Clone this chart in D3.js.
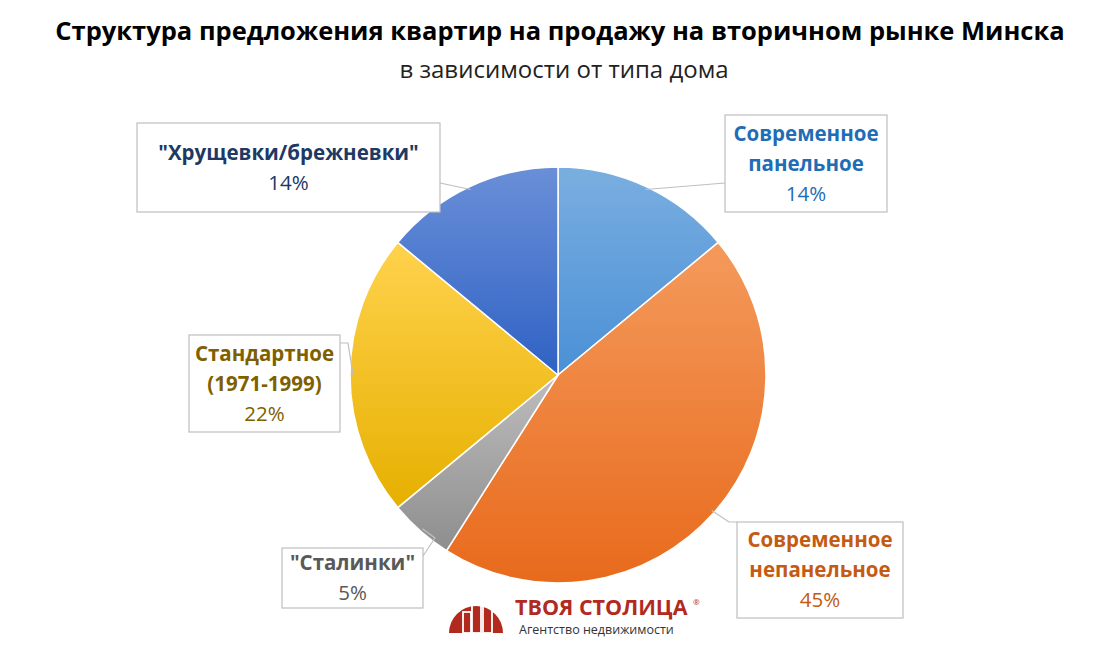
<!DOCTYPE html>
<html><head><meta charset="utf-8">
<script src="https://cdn.jsdelivr.net/npm/d3@7"></script>
<style>body{margin:0;background:#fff;font-family:"Open Sans","Noto Sans",sans-serif}</style>
</head><body><svg id="c" width="1100" height="658"></svg>
<script>
const categories = ["Современное панельное","Современное непанельное","\"Сталинки\"","Стандартное (1971-1999)","\"Хрущевки/брежневки\""];
const values = [14,45,5,22,14];
const labelLines = [["Современное","панельное"],["Современное","непанельное"],["\"Сталинки\""],["Стандартное","(1971-1999)"],["\"Хрущевки/брежневки\""]];
const colorsLight = ["#7aaee0","#f49a5c","#bdbdbd","#ffd24d","#6a8fd8"];
const colorsDark = ["#4a90d6","#e86a1c","#8e8e8e","#e6b000","#2f62c4"];
const textColors = ["#1f6db5","#c55a11","#595959","#7f6000","#203864"];
const boxes = [[725,115,162,97],[737,522,166,96],[282,548,141,60],[189,335,151,97],[137,123,303,89]];
const svg = d3.select("#c");
const cx=558, cy=375, R=208;
const defs = svg.append("defs");
values.forEach((v,i)=>{
  const g=defs.append("linearGradient").attr("id","g"+i).attr("x1",0).attr("y1",0).attr("x2",0).attr("y2",1);
  g.append("stop").attr("offset","0%").attr("stop-color",colorsLight[i]);
  g.append("stop").attr("offset","100%").attr("stop-color",colorsDark[i]);
});
const pie = d3.pie().sort(null).value(d=>d)(values);
const arc = d3.arc().innerRadius(0).outerRadius(R);
const g = svg.append("g").attr("transform",`translate(${cx},${cy})`);
g.selectAll("path").data(pie).join("path").attr("d",arc).attr("fill",(d,i)=>`url(#g${i})`)
  .attr("stroke","#fff").attr("stroke-width",1.5);
pie.forEach((d,i)=>{
  const a=(d.startAngle+d.endAngle)/2;
  const p=[cx+Math.sin(a)*(R-3), cy-Math.cos(a)*(R-3)];
  const b=boxes[i];
  let q;
  if(i===0) q=[b[0],b[1]+68];
  else if(i===1) q=[b[0],b[1]];
  else if(i===2) q=[b[0]+b[2],b[1]+8];
  else if(i===3) q=[b[0]+b[2],b[1]+8];
  else q=[b[0]+b[2],b[1]+60];
  const mid = i===3?[q[0]+8,q[1]]:(i===1?[q[0]-8,q[1]]:(i===2?[q[0]+12,q[1]-18]:null));
  const pts = mid?[p,mid,q]:[p,q];
  svg.append("polyline").attr("points",pts.map(t=>t.join(",")).join(" ")).attr("fill","none").attr("stroke","#bfbfbf").attr("stroke-width",1.2);
});
boxes.forEach((b,i)=>{
  svg.append("rect").attr("x",b[0]).attr("y",b[1]).attr("width",b[2]).attr("height",b[3]).attr("fill","#fff").attr("stroke","#bfbfbf").attr("stroke-width",1.2);
  const lines=labelLines[i];
  const n=lines.length+1, lh=30;
  const y0=b[1]+b[3]/2-(n-1)*lh/2+7;
  const t=svg.append("text").attr("text-anchor","middle").attr("font-size",20.5).attr("fill",textColors[i]);
  lines.forEach((l,k)=>t.append("tspan").attr("x",b[0]+b[2]/2).attr("y",y0+k*lh).attr("font-weight",700).text(l));
  t.append("tspan").attr("x",b[0]+b[2]/2).attr("y",y0+lines.length*lh).text(values[i]+"%");
});
svg.append("text").attr("x",560).attr("y",40).attr("text-anchor","middle").attr("font-size",25.5).attr("font-weight",700).attr("fill","#000").text("Структура предложения квартир на продажу на вторичном рынке Минска");
svg.append("text").attr("x",564).attr("y",78).attr("text-anchor","middle").attr("font-size",24).attr("fill","#222").text("в зависимости от типа дома");
const lg=svg.append("g");
lg.append("path").attr("d","M449,633 A27,27 0 0 1 503,633 Z").attr("fill","#b22a1e");
[[463,612,8,21],[472,603,9,30],[483,596,9,37]].forEach(r=>lg.append("rect").attr("x",r[0]).attr("y",r[1]).attr("width",r[2]).attr("height",r[3]).attr("fill","none").attr("stroke","#fff").attr("stroke-width",1.8));
lg.append("text").attr("x",515).attr("y",615).attr("font-size",21.5).attr("font-weight",700).attr("fill","#b22a1e").text("ТВОЯ СТОЛИЦА");
lg.append("text").attr("x",693).attr("y",605).attr("font-size",8).attr("fill","#b22a1e").text("®");
lg.append("text").attr("x",519).attr("y",634).attr("font-size",12.5).attr("fill","#333").text("Агентство недвижимости");
</script></body></html>
